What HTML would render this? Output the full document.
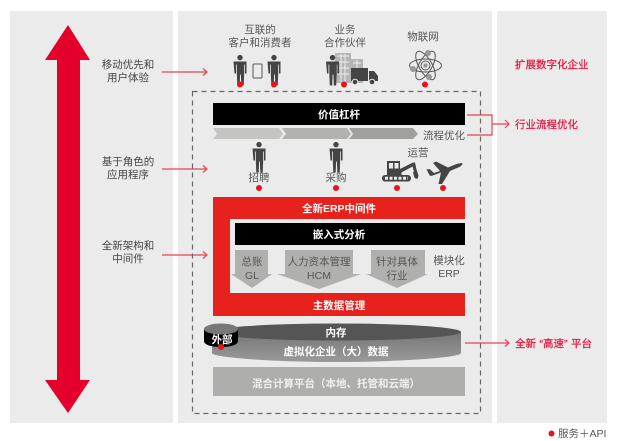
<!DOCTYPE html>
<html><head><meta charset="utf-8"><style>
html,body{margin:0;padding:0;background:#fff}
svg{display:block}
text{font-family:"Liberation Sans","Noto Sans CJK SC",sans-serif;font-size:10.5px;text-anchor:middle;fill:#444}
.w{fill:#fff;font-weight:bold}
.r{fill:#e5173f;text-anchor:start;stroke:#e5173f;stroke-width:.25}
.g{fill:#555}
</style></head><body>
<svg width="617" height="441" viewBox="0 0 617 441" xmlns="http://www.w3.org/2000/svg">
<defs>
<g id="p"><circle cx="0" cy="2.600" r="2.700" fill="#444"/><path d="M-6.500 6.500h13v12h-1.500v-9h-.8v9l-.5 12h-2.400l-.4-11h-.8l-.4 11h-2.400l-.5-12v-9h-.8v9h-1.500z" fill="#444"/></g>
<linearGradient id="cy" x1="0" x2="0" y1="0" y2="1"><stop offset="0" stop-color="#767676"/><stop offset="1" stop-color="#9a9a9a"/></linearGradient>
</defs>
<rect x="10" y="11" width="163" height="412" fill="#ebebeb"/>
<rect x="178" y="11" width="314" height="412" fill="#ebebeb"/>
<rect x="497" y="11" width="110" height="412" fill="#ebebeb"/>
<path d="M68 25L90 60H80V380H90L68 413L45 380H57V60H45z" fill="#e4002b"/>

<text x="128" y="68">移动优先和</text><text x="128" y="81">用户体验</text>
<text x="128" y="165">基于角色的</text><text x="128" y="178">应用程序</text>
<text x="128" y="249">全新架构和</text><text x="128" y="262">中间件</text>

<g stroke="#e8454f" stroke-width="1.200" fill="none">
<path d="M162 72H207M203 68.500L207 72L203 75.500"/>
<path d="M162 169H207M203 165.500L207 169L203 172.500"/>
<path d="M162 255H207M203 251.500L207 255L203 258.500"/>
<path d="M467 115H492V135H467M492 124H509M505 120L509 124L505 128"/>
<path d="M465 343H509M505 339.500L509 343L505 346.500"/>
</g>

<rect x="192.500" y="91.500" width="288" height="322" fill="none" stroke="#666" stroke-width="1.200" stroke-dasharray="5 4"/>

<text x="260" y="33" class="g">互联的</text><text x="260" y="46" class="g">客户和消费者</text>
<text x="345" y="33" class="g">业务</text><text x="345" y="46" class="g">合作伙伴</text>
<text x="423" y="40" class="g">物联网</text>

<use href="#p" x="240" y="55"/><use href="#p" x="274" y="55"/>
<rect x="253" y="64" width="9" height="14" rx="1" fill="none" stroke="#555"/>
<circle cx="240" cy="84.500" r="3" fill="#e8141c"/><circle cx="274" cy="84.500" r="3" fill="#e8141c"/>

<rect x="335" y="53" width="16" height="30" fill="#b5b5b5"/><rect x="351" y="59" width="12" height="24" fill="#b5b5b5"/>
<path d="M337 56h12M337 62h12M337 68h12M337 74h12M353 63h8M353 69h8M341 54v28M345 54v28M357 60v10" stroke="#e6e6e6" stroke-width="1.200" fill="none"/>
<use href="#p" x="332.500" y="55"/>
<rect x="351" y="68" width="17" height="13" fill="#444"/><path d="M369 71h5l4 5v5h-9z" fill="#444"/>
<circle cx="355" cy="82" r="2.800" fill="#444" stroke="#ebebeb"/><circle cx="372" cy="82" r="2.800" fill="#444" stroke="#ebebeb"/>
<circle cx="344" cy="84.500" r="3" fill="#e8141c"/>

<g fill="none" stroke="#555" stroke-width="1">
<ellipse cx="425.500" cy="65.500" rx="16" ry="6.500"/>
<ellipse cx="425.500" cy="65.500" rx="16" ry="6.500" transform="rotate(60 425.500 65.500)"/>
<ellipse cx="425.500" cy="65.500" rx="16" ry="6.500" transform="rotate(120 425.500 65.500)"/>
<circle cx="425.500" cy="65.500" r="4.500"/>
</g>
<circle cx="425.500" cy="65.500" r="2.200" fill="#999"/><circle cx="428" cy="53" r="3" fill="#999"/><circle cx="413" cy="69" r="3" fill="#999"/><circle cx="429" cy="77" r="3" fill="#999"/>
<circle cx="425" cy="84.500" r="3" fill="#e8141c"/>

<rect x="213" y="103" width="252" height="22" fill="#000"/>
<text x="339" y="118" class="w">价值杠杆</text>
<path d="M213 128H279L283 134L279 139H213L217 134z" fill="#c4c4c2"/>
<path d="M282 128H347L351 134L347 139H282L286 134z" fill="#b2b2b0"/>
<path d="M349 128H413L418 134L413 139H349L353 134z" fill="#a0a09e"/>
<text x="444" y="139" class="g">流程优化</text>

<use href="#p" x="259" y="142"/><use href="#p" x="336" y="142"/>
<text x="259" y="181" class="g">招聘</text><text x="336" y="181" class="g">采购</text>
<text x="418" y="156" class="g">运营</text>
<circle cx="259" cy="188" r="3" fill="#e8141c"/><circle cx="336" cy="188" r="3" fill="#e8141c"/><circle cx="397" cy="188" r="3" fill="#e8141c"/><circle cx="443" cy="188" r="3" fill="#e8141c"/>

<!-- excavator -->
<path d="M387 161h13v8l13-6.500h2l1.500 7 2 6-1 3.500-3-1-1.500-5.500 1-1-1.500-5-11 6v2.500h-14.500z" fill="#444"/>
<rect x="389" y="163" width="4" height="5.500" fill="#ebebeb"/><rect x="394.500" y="163" width="4" height="5.500" fill="#ebebeb"/>
<rect x="382" y="175" width="29" height="6.500" rx="3.200" fill="#444"/>
<path d="M385 178.200h23" stroke="#ebebeb" stroke-width="3" stroke-dasharray="3 1.500"/>
<!-- plane -->
<path d="M426.500 169.500l3-.5 4.500 4 6-2-7-8 3-1.500 12 6 8-3.200c3-1 6.500-1.700 6.500-.6s-2 3-5.500 4.300l-7 3-8 13h-3.500l2.500-11.500-9 3.200-2 .2z" fill="#444"/>

<path d="M213 197H465V219H230V293H465V316H213z" fill="#e7211c"/>
<text x="339" y="212" class="w">全新ERP中间件</text>
<text x="339" y="309" class="w">主数据管理</text>
<rect x="235" y="223" width="230" height="22" fill="#000"/>
<text x="339" y="238" class="w">嵌入式分析</text>

<path d="M235 250H268V274H272L252 288L231 274H235z" fill="#b0b0ae"/>
<path d="M285 250H353V274H361L319 289L277 274H285z" fill="#b0b0ae"/>
<path d="M371 250H425V274H428L397 288L366 274H371z" fill="#b0b0ae"/>
<text x="252" y="265" class="g">总账</text><text x="252" y="279" class="g">GL</text>
<text x="319" y="265" class="g">人力资本管理</text><text x="319" y="279" class="g">HCM</text>
<text x="397" y="265" class="g">针对具体</text><text x="397" y="279" class="g">行业</text>
<text x="449" y="264" class="g">模块化</text><text x="449" y="277" class="g">ERP</text>

<path d="M212 332V353C212 358 280 362 336 362S461 358 461 353V332z" fill="url(#cy)"/>
<ellipse cx="336.500" cy="332" rx="124.500" ry="8.500" fill="#555"/>
<text x="336" y="336" class="w">内存</text>
<text x="336" y="355" class="w">虚拟化企业（大）数据</text>
<path d="M204 329V341C204 345 212 347 221 347S238 345 238 341V329z" fill="#000"/>
<ellipse cx="221" cy="329" rx="17" ry="5.500" fill="#777"/>
<text x="222" y="343" class="w">外部</text>
<circle cx="221" cy="347" r="3" fill="#e8141c"/>

<rect x="213" y="367" width="252" height="29" fill="#aeaeac"/>
<text x="336" y="387" style="fill:#f0f0f0;font-weight:bold">混合计算平台（本地、托管和云端）</text>

<text x="515" y="68" class="r">扩展数字化企业</text>
<text x="515" y="128" class="r">行业流程优化</text>
<text x="515" y="347" class="r">全新<tspan dx="3.500">“高速”</tspan><tspan dx="3.500">平台</tspan></text>

<circle cx="551.500" cy="433.500" r="3" fill="#e8141c"/>
<text x="558" y="437" style="text-anchor:start;fill:#555">服务＋API</text>
</svg>
</body></html>
